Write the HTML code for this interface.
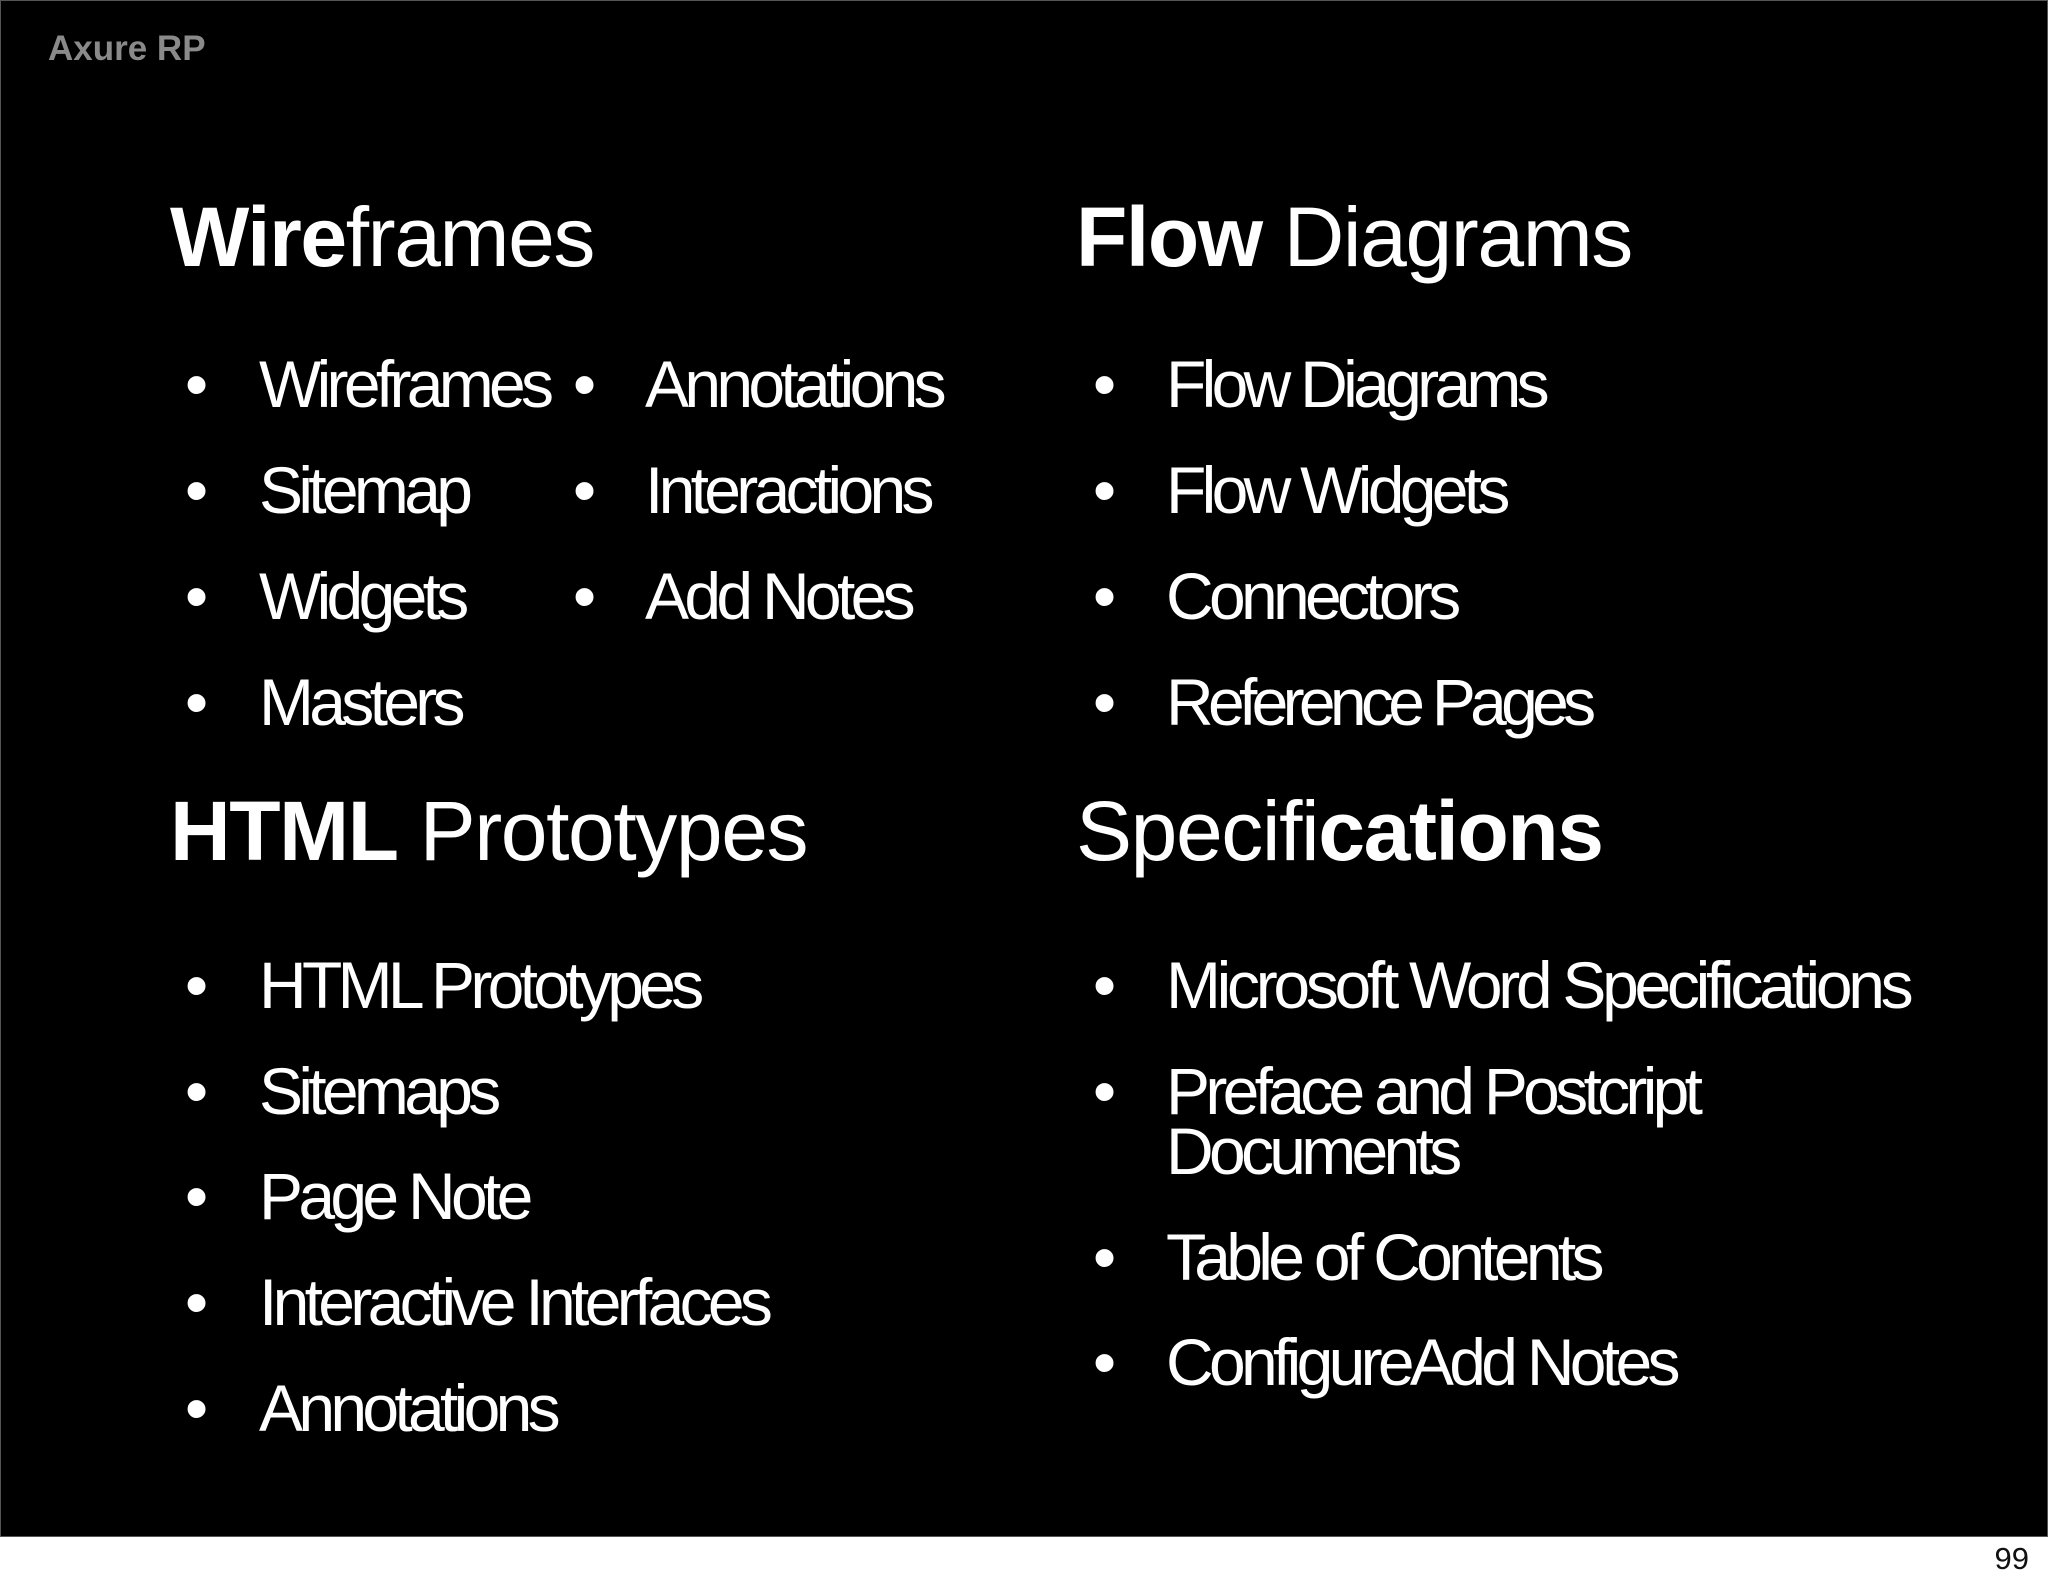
<!DOCTYPE html>
<html><head><meta charset="utf-8"><style>
html,body{margin:0;padding:0;background:#fff;}
body{width:2048px;height:1587px;position:relative;overflow:hidden;font-family:"Liberation Sans",Arial,sans-serif;}
#slide{position:absolute;left:0;top:0;width:2046px;height:1535px;background:#000;border:1px solid #555;}
.t{position:absolute;white-space:nowrap;line-height:1;color:#fff;}
.h{font-size:84px;letter-spacing:-1.4px;}
.b{font-size:66px;letter-spacing:-4.7px;}
.d{font-size:66px;}
</style></head><body>
<div id="slide"></div>
<div class="t" style="left:48px;top:31px;font-size:35px;font-weight:bold;color:#8a8a8a;">Axure RP</div>

<div class="t h" style="left:170px;top:195px;"><b>Wire</b>frames</div>
<div class="t h" style="left:1076px;top:195px;"><b>Flow</b> Diagrams</div>
<div class="t h" style="left:170px;top:789px;"><b>HTML</b> Prototypes</div>
<div class="t h" style="left:1076px;top:789px;">Specifi<b>cations</b></div>

<div class="t d" style="left:185px;top:351px;">•</div><div class="t b" style="left:259px;top:351px;">Wireframes</div>
<div class="t d" style="left:185px;top:457px;">•</div><div class="t b" style="left:259px;top:457px;">Sitemap</div>
<div class="t d" style="left:185px;top:563px;">•</div><div class="t b" style="left:259px;top:563px;">Widgets</div>
<div class="t d" style="left:185px;top:669px;">•</div><div class="t b" style="left:259px;top:669px;">Masters</div>

<div class="t d" style="left:573px;top:351px;">•</div><div class="t b" style="left:645px;top:351px;">Annotations</div>
<div class="t d" style="left:573px;top:457px;">•</div><div class="t b" style="left:645px;top:457px;">Interactions</div>
<div class="t d" style="left:573px;top:563px;">•</div><div class="t b" style="left:645px;top:563px;">Add Notes</div>

<div class="t d" style="left:1093px;top:351px;">•</div><div class="t b" style="left:1166px;top:351px;">Flow Diagrams</div>
<div class="t d" style="left:1093px;top:457px;">•</div><div class="t b" style="left:1166px;top:457px;">Flow Widgets</div>
<div class="t d" style="left:1093px;top:563px;">•</div><div class="t b" style="left:1166px;top:563px;">Connectors</div>
<div class="t d" style="left:1093px;top:669px;">•</div><div class="t b" style="left:1166px;top:669px;letter-spacing:-5.7px;">Reference Pages</div>

<div class="t d" style="left:185px;top:952px;">•</div><div class="t b" style="left:259px;top:952px;">HTML Prototypes</div>
<div class="t d" style="left:185px;top:1058px;">•</div><div class="t b" style="left:259px;top:1058px;">Sitemaps</div>
<div class="t d" style="left:185px;top:1163px;">•</div><div class="t b" style="left:259px;top:1163px;">Page Note</div>
<div class="t d" style="left:185px;top:1269px;">•</div><div class="t b" style="left:259px;top:1269px;">Interactive Interfaces</div>
<div class="t d" style="left:185px;top:1375px;">•</div><div class="t b" style="left:259px;top:1375px;">Annotations</div>

<div class="t d" style="left:1093px;top:952px;">•</div><div class="t b" style="left:1166px;top:952px;letter-spacing:-4.3px;">Microsoft Word Specifications</div>
<div class="t d" style="left:1093px;top:1058px;">•</div><div class="t b" style="left:1166px;top:1058px;">Preface and Postcript</div>
<div class="t b" style="left:1166px;top:1118px;">Documents</div>
<div class="t d" style="left:1093px;top:1224px;">•</div><div class="t b" style="left:1166px;top:1224px;">Table of Contents</div>
<div class="t d" style="left:1093px;top:1329px;">•</div><div class="t b" style="left:1166px;top:1329px;">ConfigureAdd Notes</div>

<div class="t" style="right:19px;top:1543px;font-size:31px;color:#111;">99</div>
</body></html>
